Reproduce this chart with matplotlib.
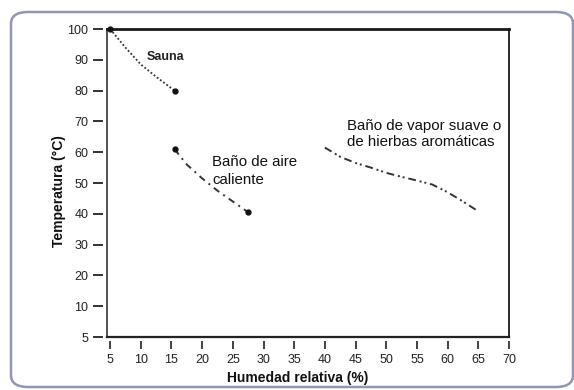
import matplotlib
matplotlib.use("Agg")
import matplotlib.pyplot as plt
from matplotlib.patches import FancyBboxPatch
from matplotlib.lines import Line2D

plt.rcParams['font.family'] = ['Liberation Sans', 'DejaVu Sans']

# Humidity (%) vs temperature (°C) for three kinds of bath
sauna_x = [5, 7.5, 10, 12.5, 15.5]
sauna_y = [100, 94, 88.5, 84.5, 80]

aire_x = [15.5, 17.5, 20, 22.5, 25, 27.5]
aire_y = [61, 56, 51.5, 47.5, 44, 40.5]

vapor_x = [40, 42.5, 45, 47.5, 50, 52.5, 55, 57.5, 60, 62.5, 65]
vapor_y = [61.5, 58.5, 56.5, 55, 53.3, 52, 50.8, 49.5, 47, 44, 40.8]

x_ticks = [5, 10, 15, 20, 25, 30, 35, 40, 45, 50, 55, 60, 65, 70]
y_ticks = [0, 10, 20, 30, 40, 50, 60, 70, 80, 90, 100]
y_tick_labels = ['5', '10', '20', '30', '40', '50', '60', '70', '80', '90', '100']

W, H = 574, 390
fig = plt.figure(figsize=(W / 100, H / 100), dpi=100)
fig.patch.set_facecolor('white')

# rounded outer frame
frame = FancyBboxPatch((11 / W, 3 / H), 562 / W, 375 / H,
                       boxstyle="round,pad=0,rounding_size=0.03",
                       transform=fig.transFigure, facecolor='none',
                       edgecolor='#8e98b6', linewidth=1.8, zorder=-1)
fig.patches.append(frame)

ax = fig.add_axes([107 / W, 1 - 337 / H, (509 - 107) / W, (337 - 29) / H])
ax.set_facecolor('none')
ax.set_xlim(4.5, 70)
ax.set_ylim(0, 100)

line_col = '#333333'
ax.plot(sauna_x, sauna_y, color=line_col, lw=1.3, linestyle=(0, (1, 1.2)), zorder=3)
ax.plot([sauna_x[0], sauna_x[-1]], [sauna_y[0], sauna_y[-1]], 'o', color='#111111', ms=3.5, zorder=4,
        clip_on=False)

ax.plot(aire_x, aire_y, color=line_col, lw=1.4, linestyle=(0, (3.5, 2.5, 1, 2.5)), zorder=3)
ax.plot([aire_x[0], aire_x[-1]], [aire_y[0], aire_y[-1]], 'o', color='#111111', ms=3.5, zorder=4)

ax.plot(vapor_x, vapor_y, color=line_col, lw=1.4,
        linestyle=(0, (4, 2, 1, 1.5, 1, 2)), zorder=3)

# spines: left/bottom moved out so the ticks sit slightly apart from the frame
for side in ('left', 'bottom'):
    ax.spines[side].set_position(('outward', 3))
    ax.spines[side].set_color('none')
ax.spines['top'].set_linewidth(2.0)
ax.spines['top'].set_color('#1a1a1a')
ax.spines['right'].set_linewidth(1.3)
ax.spines['right'].set_color('#1a1a1a')
ax.add_line(Line2D([0, 0], [0, 1], transform=ax.transAxes, color='#333333', lw=1.2, clip_on=False))
ax.add_line(Line2D([0, 1], [0, 0], transform=ax.transAxes, color='#222222', lw=1.6, clip_on=False))

ax.set_xticks(x_ticks)
ax.set_xticklabels([str(v) for v in x_ticks])
ax.set_yticks(y_ticks)
ax.set_yticklabels(y_tick_labels)
ax.tick_params(axis='y', direction='out', length=7.5, width=1.3, pad=3,
               labelsize=9, colors='#222222')
ax.tick_params(axis='x', direction='out', length=6, width=1.2, pad=3,
               labelsize=9, colors='#222222')

ax.set_xlabel('Humedad relativa (%)', fontsize=10, fontweight='bold', color='#111111',
              labelpad=4)
ax.set_ylabel('Temperatura (°C)', fontsize=10, fontweight='bold', color='#111111',
              labelpad=1)
ax.xaxis.label.set_x(0.475)
ax.yaxis.label.set_y(0.475)

ax.text(11.0, 91, 'Sauna', fontsize=9, fontweight='bold', color='#222222',
        ha='left', va='center')
ax.text(21.6, 53.9, 'Baño de aire\ncaliente', fontsize=10.8, color='#111111',
        ha='left', va='center', linespacing=1.3)
ax.text(43.6, 65.9, 'Baño de vapor suave o\nde hierbas aromáticas', fontsize=10.8,
        color='#111111', ha='left', va='center', linespacing=1.15)

fig.savefig('out.png', dpi=100)
